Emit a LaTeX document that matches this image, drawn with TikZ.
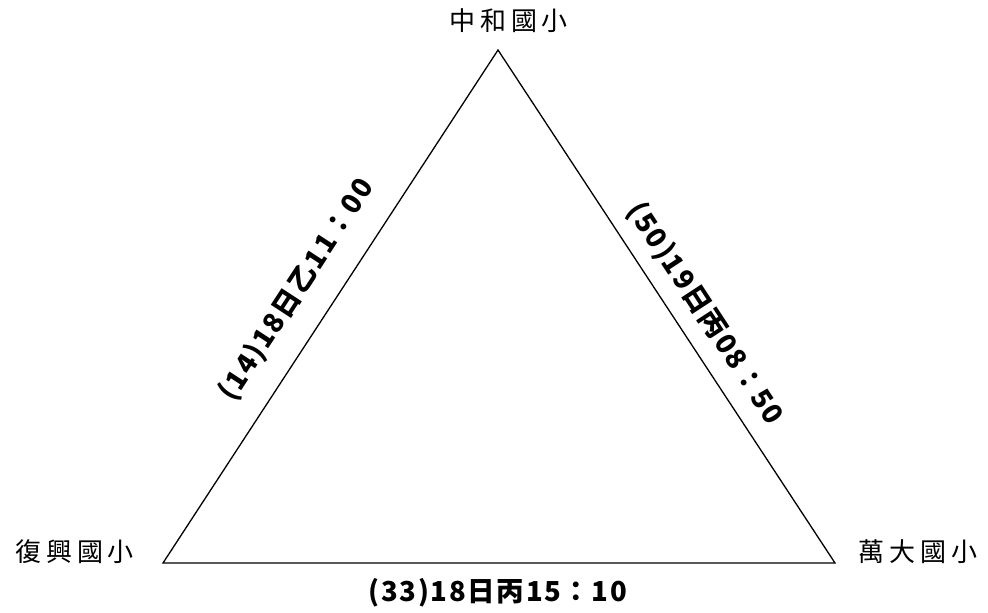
\documentclass[tikz,border=0pt]{standalone}
\usepackage{fontspec}
\newfontfamily\cjk[LetterSpace=18]{Noto Sans CJK TC}
\newfontfamily\cjkb[LetterSpace=6]{Noto Sans CJK TC}
\begin{document}
\begin{tikzpicture}[x=1pt,y=-1pt,
  place/.style={font=\cjk\fontsize{26}{26}\selectfont, inner sep=0pt},
  timelabel/.style={font=\cjkb\bfseries\fontsize{27.5}{27.5}\selectfont, inner sep=0pt},
  edge/.style={line width=1.3pt, line join=miter}]
\useasboundingbox (0,0) rectangle (988,613);
\coordinate (A) at (498,50);
\coordinate (B) at (163,563);
\coordinate (C) at (835,563);
\draw[edge] (A) -- (C) -- (B) -- cycle;
\node[place] (top) at (509,21) {中和國小};
\node[place] (left) at (75,552) {復興國小};
\node[place] (right) at (918,552) {萬大國小};
\node[timelabel, rotate=56.85] (lab1) at (297,290) {(14)18日乙11：00};
\node[timelabel, rotate=-56.8] (lab2) at (705,314) {(50)19日丙08：50};
\node[timelabel] (lab3) at (498,593) {(33)18日丙15：10};
\end{tikzpicture}
\end{document}
